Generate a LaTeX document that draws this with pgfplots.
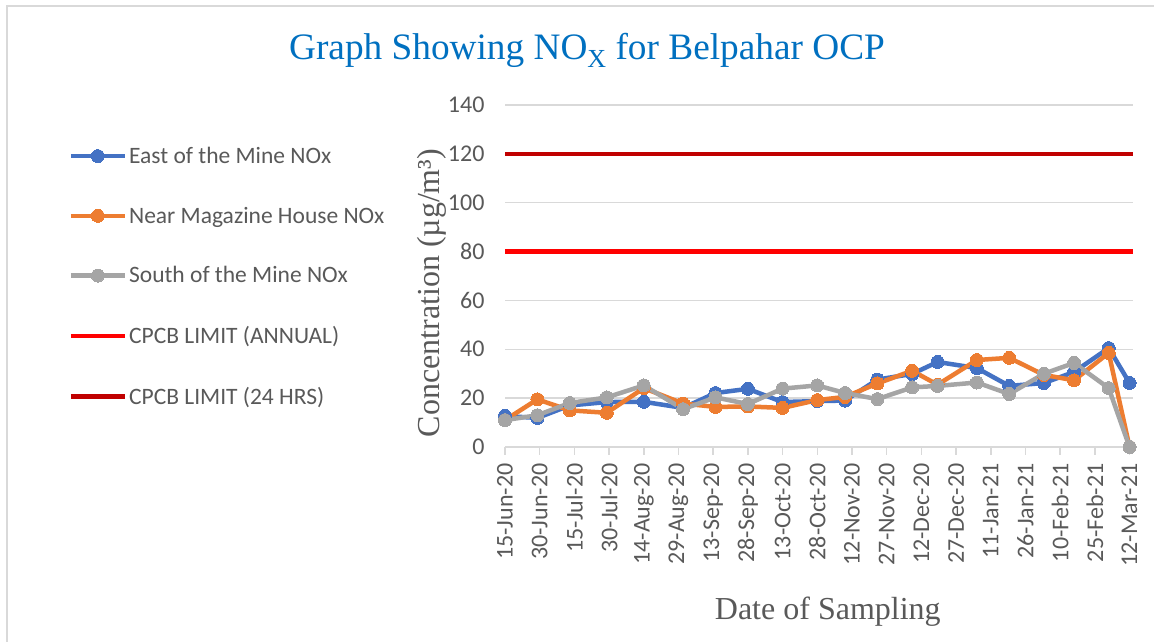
\documentclass[border=0pt]{standalone}
\usepackage{fontspec}
\setmainfont{Liberation Serif}
\newfontfamily\calibri{Carlito}
\usepackage{pgfplots}
\pgfplotsset{compat=1.18}
\definecolor{cblue}{HTML}{4472C4}
\definecolor{corange}{HTML}{ED7D31}
\definecolor{cgrey}{HTML}{A5A5A5}
\definecolor{cred}{HTML}{FF0000}
\definecolor{cdred}{HTML}{C00000}
\definecolor{gridgrey}{HTML}{D9D9D9}
\definecolor{txtgrey}{HTML}{595959}
\definecolor{titleblue}{HTML}{0070C0}
\begin{document}
\begin{tikzpicture}[x=1pt,y=1pt]
\useasboundingbox (0,0) rectangle (1154,642);
\fill[white] (0,0) rectangle (1154,642);
\draw[line width=1.5pt, gridgrey] (7,-5) -- (7,636) -- (1160,636);
\node[font=\fontsize{37.3}{40}\selectfont, text=titleblue] at (587,592) {Graph Showing NO\raisebox{-0.22em}{\fontsize{26}{26}\selectfont X} for Belpahar OCP};
\begin{axis}[
  at={(505pt,195pt)}, anchor=south west, scale only axis,
  width=628pt, height=342pt,
  xmin=0, xmax=271.5, ymin=0, ymax=140,
  xtick={0,15,...,270},
  xticklabels={15-Jun-20,30-Jun-20,15-Jul-20,30-Jul-20,14-Aug-20,29-Aug-20,13-Sep-20,28-Sep-20,13-Oct-20,28-Oct-20,12-Nov-20,27-Nov-20,12-Dec-20,27-Dec-20,11-Jan-21,26-Jan-21,10-Feb-21,25-Feb-21,12-Mar-21},
  ytick={0,20,...,140},
  ymajorgrids, grid style={line width=1.5pt, gridgrey},
  axis x line*=bottom, axis y line*=left,
  y axis line style={draw=none},
  x axis line style={gridgrey, line width=1.5pt},
  xtick style={gridgrey, line width=1.5pt},
  ytick style={draw=none},
  tick align=outside, major tick length=8pt,
  x tick label style={yshift=-5pt, rotate=90, anchor=east, font=\calibri\fontsize{24}{24}\selectfont, text=txtgrey},
  y tick label style={xshift=-9pt, font=\calibri\fontsize{24}{24}\selectfont, text=txtgrey},
  /pgf/number format/assume math mode=true,
  xlabel={Date of Sampling},
  xlabel style={font=\fontsize{32}{32}\selectfont, text=txtgrey, at={(axis description cs:0.514,-0.482)}, anchor=center},
  ylabel={Concentration (µg/m³)},
  ylabel style={font=\fontsize{32}{32}\selectfont, text=txtgrey, at={(axis description cs:-0.117,0.45)}, anchor=center},
  legend style={at={(axis description cs:-0.7,0.889)}, anchor=north west, draw=none, fill=none,
    font=\calibri\fontsize{23.5}{24}\selectfont, text=txtgrey, row sep=38pt},
  legend cell align=left,
  legend image code/.code={\draw[#1, mark repeat=2, mark phase=2] plot coordinates {(0pt,0pt)(27pt,0pt)(54pt,0pt)};},
  every axis plot/.append style={line width=4.5pt},
]
\addplot[cblue, mark=*, mark size=6.5pt, mark options={solid, fill=cblue, draw=cblue, line width=0pt}] coordinates {
(0,12.7)(14,11.9)(28,17)(44,18.4)(60,18.5)(77,16)(91,22.1)(105,23.8)(120,18.4)(135,18.8)(147,19)(161,27.6)(176,29.9)(187,34.8)(204,32.3)(218,25)(233,26.2)(246,30.7)(261,40.5)(270,26.2)};
\addlegendentry{East of the Mine NOx}
\addplot[corange, mark=*, mark size=6.5pt, mark options={solid, fill=corange, draw=corange, line width=0pt}] coordinates {
(0,11)(14,19.5)(28,15)(44,14)(60,24.1)(77,17.8)(91,16.4)(105,16.6)(120,16)(135,19.2)(147,20.5)(161,26)(176,31.2)(187,25.5)(204,35.6)(218,36.5)(233,29.5)(246,27.3)(261,38.5)(270,0)};
\addlegendentry{Near Magazine House NOx}
\addplot[cgrey, mark=*, mark size=6.5pt, mark options={solid, fill=cgrey, draw=cgrey, line width=0pt}] coordinates {
(0,11)(14,13)(28,18)(44,20.3)(60,25.2)(77,15.5)(91,20.3)(105,17.6)(120,23.9)(135,25.2)(147,22.1)(161,19.6)(176,24.4)(187,25)(204,26.4)(218,21.7)(233,30)(246,34.4)(261,24.1)(270,0)};
\addlegendentry{South of the Mine NOx}
\addplot[cred, no markers] coordinates {(0,80)(271.5,80)};
\addlegendentry{CPCB LIMIT (ANNUAL)}
\addplot[cdred, no markers] coordinates {(0,120)(271.5,120)};
\addlegendentry{CPCB LIMIT (24 HRS)}
\end{axis}
\end{tikzpicture}
\end{document}
